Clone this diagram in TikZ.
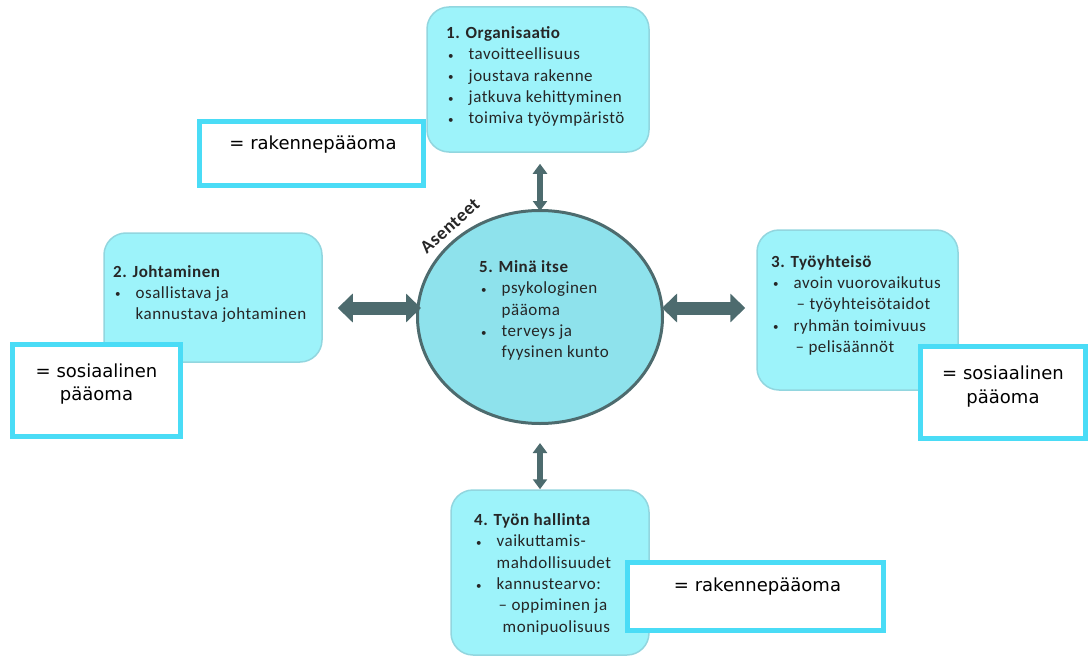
\documentclass[tikz,border=0pt]{standalone}
\usepackage{fontspec}
\setmainfont{Carlito}[LetterSpace=3]
\newfontfamily\lblfont{DejaVu Sans}
\usetikzlibrary{arrows.meta,shapes.geometric,positioning}
\definecolor{boxfill}{HTML}{9DF3FA}
\definecolor{boxline}{HTML}{92D6DF}
\definecolor{minafill}{HTML}{8EE2EC}
\definecolor{slate}{HTML}{4D6B6E}
\definecolor{lblline}{HTML}{4ADCF6}
\definecolor{txt}{HTML}{262626}

\newcommand{\bul}{\makebox[22.5pt][l]{\hspace{2pt}\raisebox{0.5pt}{\fontsize{11}{11}\selectfont•}}}
\newcommand{\ind}{\hspace*{22.5pt}}

\tikzset{
  area/.style={draw=boxline, line width=1.5pt, fill=boxfill, rounded corners=22pt, inner sep=0pt},
  areatext/.style={anchor=north west, inner sep=0pt, align=left, text=txt, font=\fontsize{17}{21.3}\selectfont},
  lblbox/.style={draw=lblline, line width=5pt, fill=white, inner sep=0pt},
  lbltext/.style={inner sep=0pt, align=center, text=black, font=\lblfont\fontsize{18}{23.3}\selectfont},
  bigarrow/.style={draw=slate, line width=13pt, {Triangle[width=28pt,length=15pt]}-{Triangle[width=28pt,length=15pt]}},
  smallarrow/.style={draw=slate, line width=6.5pt, {Triangle[width=14pt,length=10pt]}-{Triangle[width=14pt,length=10pt]}}
}

\begin{document}
\begin{tikzpicture}[x=1pt,y=-1pt]
\useasboundingbox (0,0) rectangle (1090,661);

% the four areas and the centre
\node[area, minimum width=222pt, minimum height=145pt] (org) at (538,79.5) {};
\node[area, minimum width=218pt, minimum height=129pt] (johto) at (213,297.5) {};
\node[area, minimum width=201pt, minimum height=160pt] (tyoy) at (857.5,310) {};
\node[area, minimum width=198pt, minimum height=165pt] (hall) at (550,572.5) {};
\node[ellipse, draw=slate, line width=3pt, fill=minafill, minimum width=245pt, minimum height=213pt, inner sep=0pt] (mina) at (540,317) {};

\node[areatext] (org-t) at (446,26.5) {\textbf{1. Organisaatio}\\
  \bul tavoitteellisuus\\ \bul joustava rakenne\\ \bul jatkuva kehittyminen\\ \bul toimiva työympäristö};
\node[areatext] (johto-t) at (113,265) {\textbf{2. Johtaminen}\\
  \bul osallistava ja\\ \ind kannustava johtaminen};
\node[areatext] (tyoy-t) at (771,255) {\textbf{3. Työyhteisö}\\
  \bul avoin vuorovaikutus\\ \ind\hspace*{3pt}–~työyhteisötaidot\\ \bul ryhmän toimivuus\\ \ind\hspace*{2pt}– pelisäännöt};
\node[areatext] (hall-t) at (474,513.5) {\textbf{4. Työn hallinta}\\
  \bul vaikuttamis-\\ \ind mahdollisuudet\\ \bul kannustearvo:\\ \ind\hspace*{2pt}– oppiminen ja\\ \ind\hspace*{6pt}monipuolisuus};
\node[areatext] (mina-t) at (479,260.5) {\textbf{5. Minä itse}\\
  \bul psykologinen\\ \ind pääoma\\ \bul terveys ja\\ \ind fyysinen kunto};
\node[rotate=42, inner sep=0pt, text=txt, font=\bfseries\fontsize{18.5}{18.5}\selectfont] (asenteet) at (450,226) {Asenteet};

% arrows
\draw[smallarrow] ([xshift=2pt,yshift=-11pt]org.south) -- ([yshift=-2pt]mina.north);
\draw[smallarrow] ([yshift=-18pt]mina.south) -- ([xshift=-10pt]hall.north);
\draw[bigarrow] ([shift={(15pt,-10.5pt)}]johto.east) -- ([shift={(5pt,9pt)}]mina.west);
\draw[bigarrow] ([shift={(-2pt,9pt)}]mina.east) -- ([shift={(-11pt,2pt)}]tyoy.west);

% capital labels
\node[lblbox, minimum width=224pt, minimum height=64pt] (rak1) at (311.5,153.5) {};
\node[lbltext] (rak1-t) at ([shift={(1.5pt,8.5pt)}]rak1.center) {= rakennepääoma};
\node[lblbox, minimum width=168pt, minimum height=92pt] (sos1) at (96.5,390) {};
\node[lbltext] (sos1-t) at ([yshift=6pt]sos1.center) {= sosiaalinen\\pääoma};
\node[lblbox, minimum width=165pt, minimum height=92pt] (sos2) at (1003,392.5) {};
\node[lbltext] (sos2-t) at ([yshift=6pt]sos2.center) {= sosiaalinen\\pääoma};
\node[lblbox, minimum width=256pt, minimum height=68pt] (rak2) at (755.5,596.5) {};
\node[lbltext] (rak2-t) at ([shift={(2pt,9.5pt)}]rak2.center) {= rakennepääoma};
\end{tikzpicture}
\end{document}
